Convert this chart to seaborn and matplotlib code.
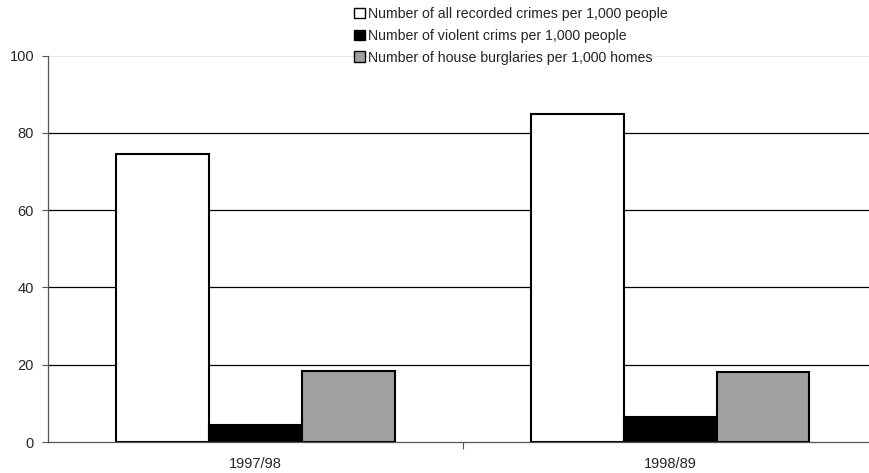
import matplotlib
matplotlib.use("Agg")
import matplotlib.pyplot as plt
import seaborn as sns
import pandas as pd

periods = ["1997/98", "1998/89"]
series = [
    "Number of all recorded crimes per 1,000 people",
    "Number of violent crims per 1,000 people",
    "Number of house burglaries per 1,000 homes",
]
all_crimes = [74.6, 84.9]
violent_crimes = [4.5, 6.4]
burglaries = [18.5, 18.1]
y_ticks = [0, 20, 40, 60, 80, 100]
colors = ["#FFFFFF", "#000000", "#A0A0A0"]

rows = []
for name, vals in zip(series, [all_crimes, violent_crimes, burglaries]):
    for p, v in zip(periods, vals):
        rows.append({"period": p, "series": name, "value": v})
df = pd.DataFrame(rows)

sns.set_theme(style="white")
plt.rcParams["font.family"] = ["Liberation Sans", "DejaVu Sans"]

fig = plt.figure(figsize=(8.7, 4.73), dpi=100)
ax = fig.add_axes([48 / 870, 1 - 442 / 473, (877.5 - 48) / 870, (442 - 55.7) / 473])

sns.barplot(data=df, x="period", y="value", hue="series", hue_order=series,
            palette=colors, width=0.672, edgecolor="black", linewidth=1.5,
            saturation=1, ax=ax, legend=True)

ax.set_ylim(0, 100)
ax.set_xlim(-0.5, 1.5)
ax.set_yticks(y_ticks)
ax.set_yticklabels([str(t) for t in y_ticks], fontsize=10.5)
ax.set_xlabel("")
ax.set_ylabel("")
for t in y_ticks[1:-1]:
    ax.axhline(t, color="black", lw=0.9, zorder=0)
ax.axhline(100, color="#E8E8E8", lw=0.9, zorder=0)

ax.tick_params(axis="x", which="major", length=0, labelsize=10.5, pad=10.5)
ax.set_xticks([0.5], minor=True)
ax.tick_params(axis="x", which="minor", length=5, width=0.8, color="#555555", direction="out", bottom=True)
ax.tick_params(axis="y", which="major", length=4, width=0.8, color="#555555", direction="out", left=True, pad=6)

for s in ["top", "right"]:
    ax.spines[s].set_visible(False)
ax.spines["left"].set_color("#555555")
ax.spines["left"].set_linewidth(0.9)
ax.spines["bottom"].set_color("#555555")
ax.spines["bottom"].set_linewidth(0.9)

leg = ax.legend(loc="upper left", bbox_to_anchor=(354 / 870, 1 - 7 / 473),
                bbox_transform=fig.transFigure, frameon=False, fontsize=10.2,
                handlelength=0.75, handleheight=0.75, handletextpad=0.25,
                labelspacing=0.55, borderpad=0, borderaxespad=0)
for h in leg.legend_handles:
    h.set_edgecolor("black")
    h.set_linewidth(1.0)

fig.savefig("out.png", dpi=100)
